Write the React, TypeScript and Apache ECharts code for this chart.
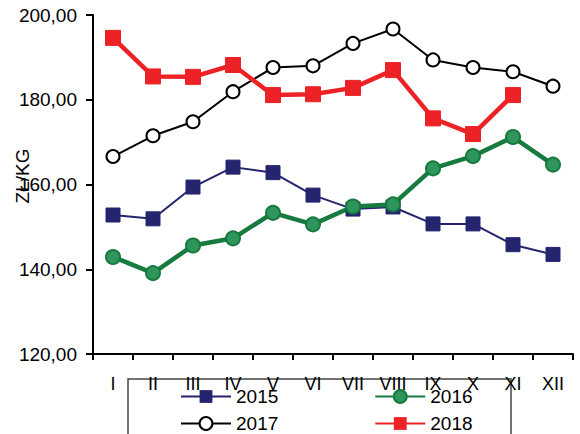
import React, { useEffect, useRef } from "react";
import * as echarts from "echarts";

const months = ["I", "II", "III", "IV", "V", "VI", "VII", "VIII", "IX", "X", "XI", "XII"];
const y2015 = [152.8, 151.9, 159.4, 164.1, 162.8, 157.5, 154.2, 154.7, 150.7, 150.7, 145.8, 143.5];
const y2016 = [142.9, 139.1, 145.6, 147.3, 153.3, 150.6, 154.8, 155.3, 163.8, 166.7, 171.2, 164.7];
const y2017 = [166.6, 171.5, 174.8, 181.9, 187.6, 188.0, 193.3, 196.7, 189.4, 187.6, 186.6, 183.2];
const y2018 = [194.6, 185.5, 185.4, 188.2, 181.1, 181.3, 182.8, 187.0, 175.6, 171.9, 181.1, null];
const yTicks = { min: 120, max: 200, interval: 20 };

export default function App() {
  const ref = useRef<HTMLDivElement>(null);
  useEffect(() => {
    if (!ref.current) return;
    const chart = echarts.init(ref.current, undefined, { renderer: "svg" });
    const font = "Liberation Sans, Arial, sans-serif";
    const legendText = { fontSize: 19, color: "#000", fontFamily: font };
    chart.setOption({
      animation: false,
      backgroundColor: "#fff",
      grid: { left: 93, right: 7, top: 15, bottom: 80 },
      xAxis: {
        type: "category",
        data: months,
        boundaryGap: true,
        axisLine: { lineStyle: { color: "#000", width: 2 } },
        axisTick: { show: true, length: 6, lineStyle: { color: "#000", width: 2 } },
        axisLabel: { color: "#000", fontSize: 18, fontFamily: font, margin: 21, interval: 0 },
        splitLine: { show: false },
      },
      yAxis: {
        type: "value",
        min: yTicks.min,
        max: yTicks.max,
        interval: yTicks.interval,
        axisLine: { show: true, lineStyle: { color: "#000", width: 2 } },
        axisTick: { show: true, length: 7, lineStyle: { color: "#000", width: 2 } },
        axisLabel: {
          color: "#000",
          fontSize: 19,
          fontFamily: font,
          margin: 16,
          formatter: (v: number) => v.toFixed(2).replace(".", ","),
        },
        splitLine: { show: false },
      },
      legend: [
        {
          data: ["2015", "2016"],
          left: 175,
          top: 382,
          itemWidth: 50,
          itemHeight: 16,
          itemGap: 96,
          textStyle: legendText,
        },
        {
          data: ["2017", "2018"],
          left: 175,
          top: 409,
          itemWidth: 50,
          itemHeight: 16,
          itemGap: 96,
          textStyle: legendText,
        },
      ],
      graphic: [
        {
          type: "rect",
          shape: { x: 128, y: 379, width: 383, height: 80 },
          style: { fill: "none", stroke: "#444", lineWidth: 1.5 },
          z: 0,
        },
        {
          type: "text",
          x: 22,
          y: 176,
          rotation: Math.PI / 2,
          style: {
            text: "ZŁ/KG",
            fill: "#000",
            font: "19px Liberation Sans, Arial, sans-serif",
            textAlign: "center",
            textVerticalAlign: "middle",
          },
        },
      ],
      series: [
        {
          name: "2015",
          type: "line",
          data: y2015,
          symbol: "rect",
          symbolSize: 14,
          lineStyle: { color: "#25256f", width: 2 },
          itemStyle: { color: "#25256f", borderColor: "#25256f" },
        },
        {
          name: "2016",
          type: "line",
          data: y2016,
          symbol: "circle",
          symbolSize: 14,
          lineStyle: { color: "#177a3e", width: 4.5 },
          itemStyle: { color: "#2e955c", borderColor: "#177a3e", borderWidth: 2 },
        },
        {
          name: "2017",
          type: "line",
          data: y2017,
          symbol: "circle",
          symbolSize: 13,
          lineStyle: { color: "#000", width: 2 },
          itemStyle: { color: "#fff", borderColor: "#000", borderWidth: 2 },
        },
        {
          name: "2018",
          type: "line",
          data: y2018,
          symbol: "rect",
          symbolSize: 15,
          lineStyle: { color: "#ed2227", width: 4.5 },
          itemStyle: { color: "#ed2227", borderColor: "#ed2227" },
        },
      ],
    });
    return () => chart.dispose();
  }, []);
  return (
    <div
      ref={ref}
      style={{ position: "fixed", left: 0, top: 0, width: 580, height: 434 }}
    />
  );
}
